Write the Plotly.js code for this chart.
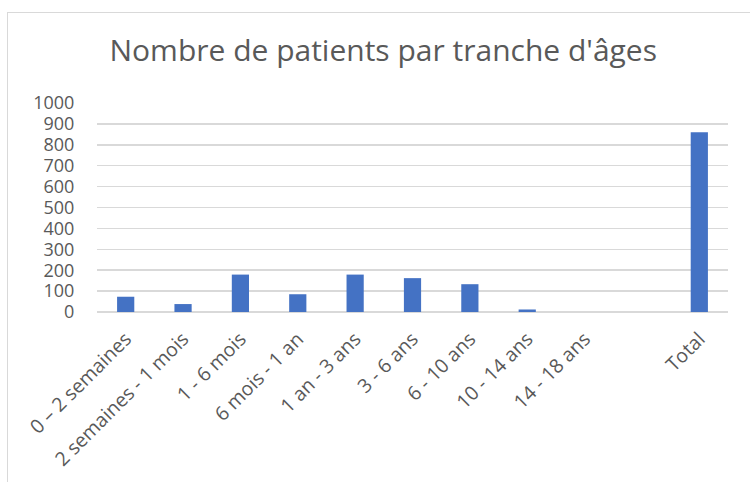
<!DOCTYPE html>
<html>
<head>
<meta charset="utf-8">
<script src="https://cdn.plot.ly/plotly-3.0.1.min.js"></script>
<style>
  html, body { margin: 0; padding: 0; background: #fff; }
  #chart { position: absolute; left: 0; top: 0; width: 750px; height: 482px; }
  #frame { position: absolute; left: 7px; top: 12px; width: 800px; height: 500px;
           border: 1px solid #d9d9d9; pointer-events: none; }
</style>
</head>
<body>
<div id="chart"></div>
<div id="frame"></div>
<script>
const categories = ["0 – 2 semaines", "2 semaines - 1 mois", "1 - 6 mois", "6 mois - 1 an",
  "1 an - 3 ans", "3 - 6 ans", "6 - 10 ans", "10 - 14 ans", "14 - 18 ans", " ", "Total"];
const patients = [73, 38, 179, 85, 179, 162, 133, 12, 0, null, 860];
const yTicks = [0, 100, 200, 300, 400, 500, 600, 700, 800, 900, 1000];

const font = "'Open Sans', 'DejaVu Sans', sans-serif";

Plotly.newPlot("chart", [{
  type: "bar",
  x: categories,
  y: patients,
  marker: { color: "#4472c4", line: { width: 0 } },
  hoverinfo: "x+y"
}], {
  width: 750, height: 482,
  paper_bgcolor: "rgba(0,0,0,0)",
  plot_bgcolor: "#ffffff",
  margin: { l: 97, r: 22, t: 103, b: 170 },
  bargap: 0.7,
  showlegend: false,
  title: {
    text: "Nombre de patients par tranche d'âges",
    font: { family: font, size: 30, color: "#595959" },
    x: 0.511, xanchor: "center", y: 0.895, yanchor: "middle"
  },
  xaxis: {
    type: "category",
    categoryorder: "array",
    categoryarray: categories,
    tickangle: -45,
    tickfont: { family: font, size: 19.5, color: "#595959" },
    showgrid: false,
    showline: false,
    zeroline: false,
    ticks: "outside", ticklen: 7, tickcolor: "rgba(0,0,0,0)"
  },
  yaxis: {
    range: [0, 1000],
    tickvals: yTicks,
    ticktext: yTicks.map(String),
    tickfont: { family: font, size: 18, color: "#595959" },
    showgrid: true,
    gridcolor: "#d9d9d9",
    gridwidth: 1.5,
    zeroline: true,
    zerolinecolor: "#d9d9d9",
    zerolinewidth: 1.5,
    showline: false,
    ticks: "outside", ticklen: 18, tickcolor: "rgba(0,0,0,0)"
  }
}, { displayModeBar: false, staticPlot: true });
</script>
</body>
</html>
